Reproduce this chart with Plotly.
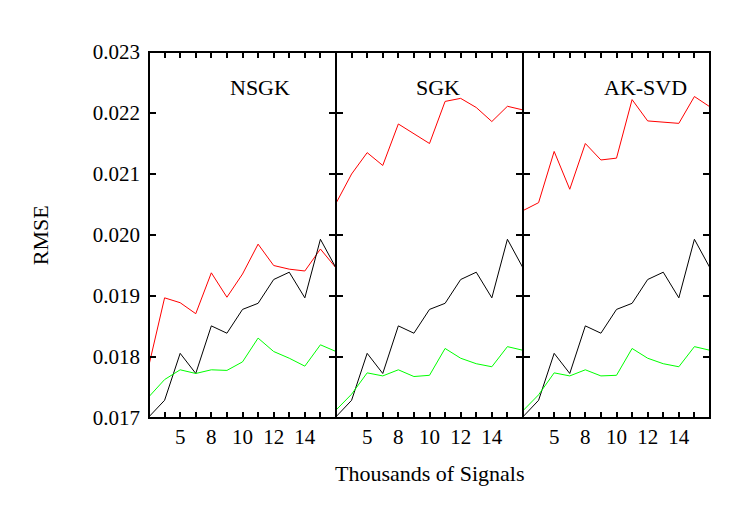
import plotly.graph_objects as go
from plotly.subplots import make_subplots

# x positions are sample indices; only some are labelled
positions = list(range(13))
tick_pos = list(range(1, 12))
tick_text = ["", "5", "", "8", "", "10", "", "12", "", "14", ""]

panels = ["NSGK", "SGK", "AK-SVD"]

# black curve is the same reference in every panel
black = [0.01702, 0.01729, 0.01806, 0.01773, 0.01851, 0.01839, 0.01878,
         0.01888, 0.01927, 0.01939, 0.01897, 0.01993, 0.01946]

red_nsgk = [0.01787, 0.01897, 0.01889, 0.01871, 0.01938, 0.01898, 0.01936,
            0.01985, 0.01950, 0.01944, 0.01941, 0.01977, 0.01946]
red_sgk = [0.02052, 0.02100, 0.02135, 0.02114, 0.02182, 0.02166, 0.02150,
           0.02219, 0.02224, 0.02209, 0.02186, 0.02211, 0.02205]
red_aksvd = [0.02040, 0.02053, 0.02137, 0.02075, 0.02150, 0.02123, 0.02126,
             0.02222, 0.02187, 0.02185, 0.02183, 0.02227, 0.02210]

green_nsgk = [0.01735, 0.01763, 0.01779, 0.01773, 0.01779, 0.01778, 0.01792,
              0.01831, 0.01809, 0.01798, 0.01785, 0.01820, 0.01809]
green_sgk = [0.01713, 0.01739, 0.01774, 0.01769, 0.01779, 0.01768, 0.01770,
             0.01814, 0.01798, 0.01789, 0.01784, 0.01817, 0.01811]
green_aksvd = [0.01712, 0.01738, 0.01774, 0.01769, 0.01779, 0.01769, 0.01770,
               0.01814, 0.01798, 0.01789, 0.01784, 0.01817, 0.01811]

reds = [red_nsgk, red_sgk, red_aksvd]
greens = [green_nsgk, green_sgk, green_aksvd]

FONT = "Liberation Serif"

fig = make_subplots(rows=1, cols=3, shared_yaxes=True, horizontal_spacing=0)

for i in range(3):
    col = i + 1
    fig.add_trace(go.Scatter(x=positions, y=reds[i], mode="lines",
                             line=dict(color="#ff0000", width=1)), row=1, col=col)
    fig.add_trace(go.Scatter(x=positions, y=black, mode="lines",
                             line=dict(color="#000000", width=1)), row=1, col=col)
    fig.add_trace(go.Scatter(x=positions, y=greens[i], mode="lines",
                             line=dict(color="#00ff00", width=1)), row=1, col=col)
    fig.update_xaxes(range=[0, 12], tickmode="array", tickvals=tick_pos,
                     ticktext=tick_text, ticks="inside", ticklen=6,
                     tickwidth=1.5, tickcolor="black", mirror="ticks",
                     showline=False, showgrid=False, zeroline=False,
                     ticklabelstandoff=4, row=1, col=col)
    fig.update_yaxes(range=[0.017, 0.023], dtick=0.001, tickformat=".3f",
                     ticks="inside", ticklen=7, tickwidth=1.5, tickcolor="black",
                     mirror="ticks", showline=False, showgrid=False,
                     zeroline=False, row=1, col=col)
    # panel frame
    xr = "x" if col == 1 else "x%d" % col
    yr = "y" if col == 1 else "y%d" % col
    fig.add_shape(type="rect", xref=xr + " domain", yref=yr + " domain",
                  x0=0, x1=1, y0=0, y1=1, layer="above",
                  line=dict(color="black", width=2))

fig.update_yaxes(ticklabelstandoff=8, row=1, col=1)

label_x = [0.198, 0.515, 0.885]
for i, name in enumerate(panels):
    fig.add_annotation(text=name, x=label_x[i], y=0.904, xref="paper",
                       yref="paper", xanchor="center", yanchor="middle",
                       showarrow=False,
                       font=dict(family=FONT, size=22, color="black"))

fig.add_annotation(text="Thousands of Signals", x=0.5, y=-0.153,
                   xref="paper", yref="paper", xanchor="center",
                   yanchor="middle", showarrow=False,
                   font=dict(family=FONT, size=22, color="black"))
fig.add_annotation(text="RMSE", x=-0.194, y=0.5, textangle=-90,
                   xref="paper", yref="paper", xanchor="center",
                   yanchor="middle", showarrow=False,
                   font=dict(family=FONT, size=22, color="black"))

# the page body adds an 8px offset, so margins are trimmed by 8 on left/top
fig.update_layout(
    width=747, height=523,
    margin=dict(l=141, r=45, t=44, b=113),
    showlegend=False,
    plot_bgcolor="white", paper_bgcolor="white",
    font=dict(family=FONT, size=21, color="black"),
)

fig.write_html("out.html")
